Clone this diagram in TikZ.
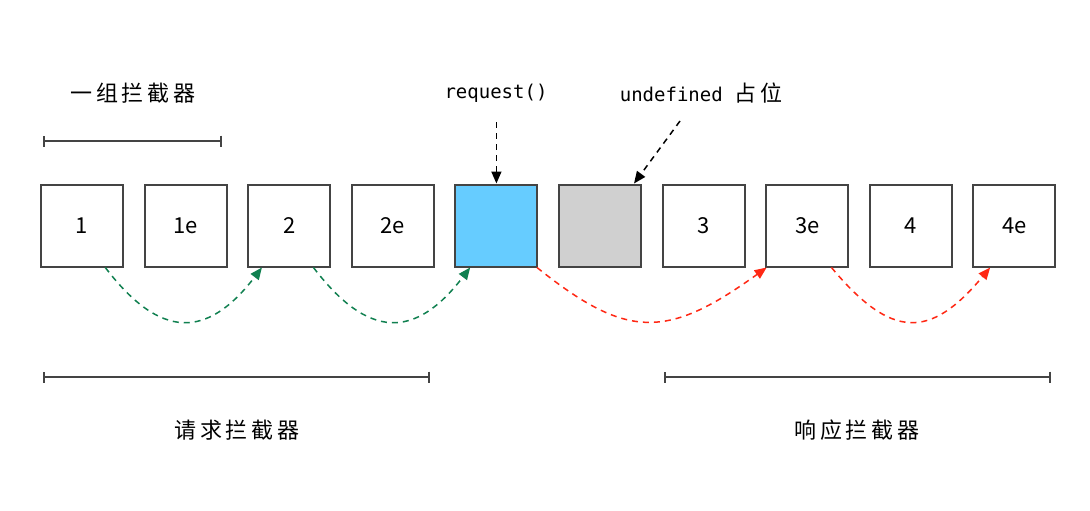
\documentclass[tikz,border=0pt]{standalone}
\usepackage{fontspec}
\setmainfont{Noto Sans CJK SC}
\newfontfamily\codefont{DejaVu Sans Mono}
\usetikzlibrary{arrows.meta,positioning}
\definecolor{BX}{RGB}{68,68,68}
\definecolor{RQ}{RGB}{102,204,255}
\definecolor{UD}{RGB}{208,208,208}
\definecolor{GR}{RGB}{16,128,80}
\definecolor{RD}{RGB}{255,40,20}
\tikzset{
  % one interceptor box
  ibox/.style={
    draw=BX, line width=1pt, fill=white,
    minimum size=41pt, inner sep=0pt,
    font=\fontsize{11}{13}\selectfont
  },
  % chinese caption
  zhcap/.style={
    font=\fontsize{11}{13}\selectfont\addfontfeature{LetterSpace=18}
  },
  % code caption
  code/.style={font=\codefont\fontsize{9.5}{11}\selectfont},
  % span bar under a group
  span/.style={draw=BX, line width=1pt, {Bar[width=5.5pt]}-{Bar[width=5.5pt]}},
  % pointer to a box
  ptr/.style={draw=black, line width=0.75pt, dash pattern=on 3pt off 2.5pt,
    -{Triangle[length=6pt,width=5pt]}},
  % hop between interceptors
  hop/.style={line width=0.75pt, dash pattern=on 3pt off 2.5pt,
    -{Triangle[length=6pt,width=5pt]}},
}

\begin{document}
\begin{tikzpicture}[x=0.5pt, y=-0.5pt, node distance=9.8pt]
\useasboundingbox[fill=white] (0,0) rectangle (1090,510);

% ── Row of boxes ────────────────────────────────────────────────────────────
\node[ibox] (b1) at (82,225.5) {1};
\node[ibox, right=of b1]  (b1e)   {1e};
\node[ibox, right=of b1e] (b2)    {2};
\node[ibox, right=of b2]  (b2e)   {2e};
\node[ibox, right=of b2e, fill=RQ] (req)   {};
\node[ibox, right=of req, fill=UD] (undef) {};
\node[ibox, right=of undef] (b3)  {3};
\node[ibox, right=of b3]  (b3e)   {3e};
\node[ibox, right=of b3e] (b4)    {4};
\node[ibox, right=of b4]  (b4e)   {4e};

% ── Top labels ──────────────────────────────────────────────────────────────
\node[zhcap] (grp)    at (133,93) {一组拦截器};
\node[code]  (reqlbl) at (496,93) {request()};
\node[code]  (udlbl)  at (701,93) {undefined \normalfont\fontsize{11}{13}\selectfont\addfontfeature{LetterSpace=18}占位};

\coordinate (grpL) at (43,141);
\coordinate (grpR) at (222,141);
\draw[span] (grpL) -- (grpR);

\coordinate (reqtail) at (req.north |- 0,122);
\coordinate (udtail)  at (680,121);
\draw[ptr] (reqtail) -- (req.north);
\draw[ptr] (udtail) -- (undef.51);

% ── Hops: request side ──────────────────────────────────────────────────────
\draw[hop, GR] (b1.-61) .. controls +(55,72) and +(-55,72) .. (b2.-123);
\draw[hop, GR] (b2.-60) .. controls +(55,72) and +(-55,72) .. (req.-122);

% ── Hops: response side ─────────────────────────────────────────────────────
\draw[hop, RD] (req.-46) .. controls +(90,72) and +(-100,72) .. (b3e.-134);
\draw[hop, RD] (b3e.-60) .. controls +(60,72) and +(-60,72) .. (b4e.-120);

% ── Bottom spans ────────────────────────────────────────────────────────────
\coordinate (rqL) at (43,377);
\coordinate (rqR) at (430,377);
\coordinate (rsL) at (664,377);
\coordinate (rsR) at (1051,377);
\draw[span] (rqL) -- (rqR);
\draw[span] (rsL) -- (rsR);

\node[zhcap] (rqcap) at (237,430) {请求拦截器};
\node[zhcap] (rscap) at (857,430) {响应拦截器};

\end{tikzpicture}
\end{document}
